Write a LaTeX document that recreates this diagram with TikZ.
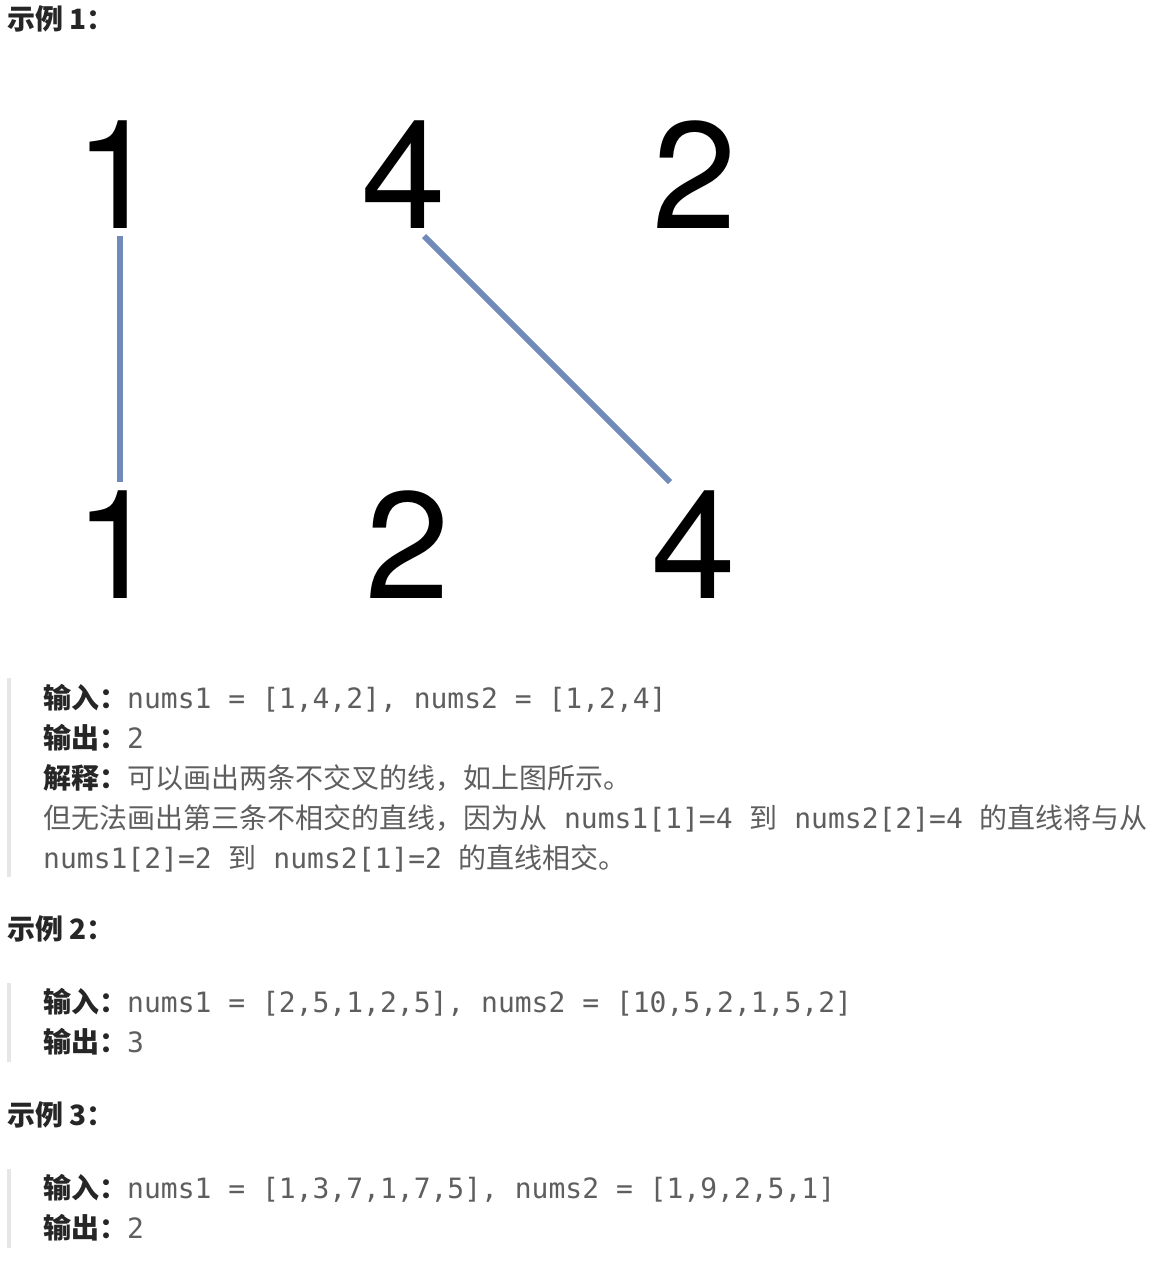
\documentclass[tikz,border=0pt]{standalone}
\usepackage{fontspec}
\setmainfont{Liberation Sans}
\newfontfamily\cjk{Noto Sans CJK SC}
\newfontfamily\code{DejaVu Sans Mono}
\newfontfamily\bigdig{TeX Gyre Heros}
\definecolor{labcol}{HTML}{262626}
\definecolor{bodycol}{HTML}{5E5E5E}
\definecolor{barcol}{HTML}{E6E6E6}
\definecolor{linkcol}{RGB}{112,138,185}
\newcommand\lab[1]{{\cjk\bfseries\color{labcol}#1}}
\newcommand\cd[1]{{\code\color{bodycol}#1}}
\newcommand\tx[1]{{\cjk\color{bodycol}#1}}
\tikzset{
  digit/.style={anchor=base west, inner sep=0pt, font=\bigdig\fontsize{152}{152}\selectfont, text=black},
  heading/.style={anchor=base west, inner sep=0pt, font=\cjk\bfseries\fontsize{28}{32}\selectfont, text=labcol},
  textline/.style={anchor=base west, inner sep=0pt, font=\fontsize{28}{40}\selectfont},
  bar/.style={draw=barcol, line width=4pt},
  link/.style={draw=linkcol, line width=6pt}
}
\begin{document}
\begin{tikzpicture}[x=1pt,y=-1pt]
\useasboundingbox[fill=white] (0,0) rectangle (1162,1266);
% headings
\node[heading] (h1) at (7,29) {示例 1：};
\node[heading] (h2) at (7,939) {示例 2：};
\node[heading] (h3) at (7,1125) {示例 3：};
% big digits
\node[digit] (t1) at (74.6,228) {1};
\node[digit] (t4) at (361,228) {4};
\node[digit] (t2) at (652,228) {2};
\node[digit] (b1) at (74.6,598) {1};
\node[digit] (b2) at (365,598) {2};
\node[digit] (b4) at (651,598) {4};
% connectors
\coordinate (c1a) at (120,236);
\coordinate (c1b) at (120,482);
\coordinate (c2a) at (424,236);
\coordinate (c2b) at (670,482);
\draw[link] (c1a) -- (c1b);
\draw[link] (c2a) -- (c2b);
% block bars
\coordinate (bar1a) at (9,678);
\coordinate (bar1b) at (9,877);
\coordinate (bar2a) at (9,983);
\coordinate (bar2b) at (9,1062);
\coordinate (bar3a) at (9,1169);
\coordinate (bar3b) at (9,1248);
\draw[bar] (bar1a) -- (bar1b);
\draw[bar] (bar2a) -- (bar2b);
\draw[bar] (bar3a) -- (bar3b);
% block 1
\node[textline] (l11) at (43,708) {\lab{输入：}\cd{nums1 = [1,4,2], nums2 = [1,2,4]}};
\node[textline] (l12) at (43,748) {\lab{输出：}\cd{2}};
\node[textline] (l13) at (43,788) {\lab{解释：}\tx{可以画出两条不交叉的线，如上图所示。}};
\node[textline] (l14) at (43,828) {\tx{但无法画出第三条不相交的直线，因为从}\cd{~nums1[1]=4~}\tx{到}\cd{~nums2[2]=4~}\tx{的直线将与从}};
\node[textline] (l15) at (43,868) {\cd{nums1[2]=2~}\tx{到}\cd{~nums2[1]=2~}\tx{的直线相交。}};
% block 2
\node[textline] (l21) at (43,1012) {\lab{输入：}\cd{nums1 = [2,5,1,2,5], nums2 = [10,5,2,1,5,2]}};
\node[textline] (l22) at (43,1052) {\lab{输出：}\cd{3}};
% block 3
\node[textline] (l31) at (43,1198) {\lab{输入：}\cd{nums1 = [1,3,7,1,7,5], nums2 = [1,9,2,5,1]}};
\node[textline] (l32) at (43,1238) {\lab{输出：}\cd{2}};
\end{tikzpicture}
\end{document}
